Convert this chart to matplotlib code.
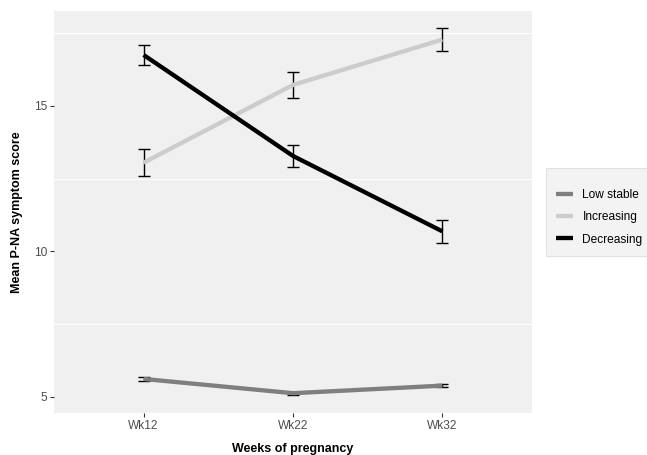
import matplotlib.pyplot as plt

plt.rcParams['font.family'] = ['Liberation Sans', 'DejaVu Sans']

weeks = ['Wk12', 'Wk22', 'Wk32']
groups = ['Low stable', 'Increasing', 'Decreasing']
colors = ['#7f7f7f', '#cccccc', '#000000']

low_stable = [5.62, 5.13, 5.39]
low_stable_se = [0.06, 0.05, 0.06]
increasing = [13.05, 15.72, 17.28]
increasing_se = [0.46, 0.46, 0.38]
decreasing = [16.75, 13.28, 10.69]
decreasing_se = [0.33, 0.38, 0.40]

means = [low_stable, increasing, decreasing]
errors = [low_stable_se, increasing_se, decreasing_se]

fig = plt.figure(figsize=(6.47, 4.55), dpi=100)
ax = fig.add_axes([54 / 647, 1 - 413 / 455, 478 / 647, 402 / 455])
ax.set_facecolor('#f0f0f0')

x = [1, 2, 3]
handles = []
for name, col, m, se in zip(groups, colors, means, errors):
    ax.errorbar(x, m, yerr=se, fmt='none', ecolor='black', elinewidth=1,
                capsize=4.5, capthick=1, zorder=2)
    line, = ax.plot(x, m, color=col, lw=3.1, solid_capstyle='butt', zorder=3, label=name)
    handles.append(line)

for yv in [7.5, 12.5, 17.5]:
    ax.axhline(yv, color='white', lw=0.8, zorder=1)

ax.set_xlim(0.4, 3.6)
ax.set_ylim(4.45, 18.26)
ax.set_xticks(x)
ax.set_xticklabels(weeks)
ax.set_yticks([5, 10, 15])
ax.tick_params(axis='both', length=3, width=0.8, color='#333333',
               labelcolor='#4d4d4d', labelsize=8.6, pad=2)
for s in ax.spines.values():
    s.set_visible(False)

ax.set_xlabel('Weeks of pregnancy', fontsize=9, fontweight='bold', labelpad=8)
ax.set_ylabel('Mean P-NA symptom score', fontsize=9, fontweight='bold', labelpad=8)

leg = fig.legend(handles=handles, loc='upper left', bbox_to_anchor=(546 / 647, 1 - 168 / 455),
                 borderaxespad=0, fontsize=8.6, frameon=True, fancybox=False,
                 handlelength=1.4, borderpad=0.85, labelspacing=0.85, handletextpad=0.8,
                 title=' ', title_fontsize=1)
leg.get_frame().set_facecolor('#f0f0f0')
leg.get_frame().set_edgecolor('#dddddd')
leg.get_frame().set_linewidth(0.8)

fig.savefig('out.png', dpi=100)
